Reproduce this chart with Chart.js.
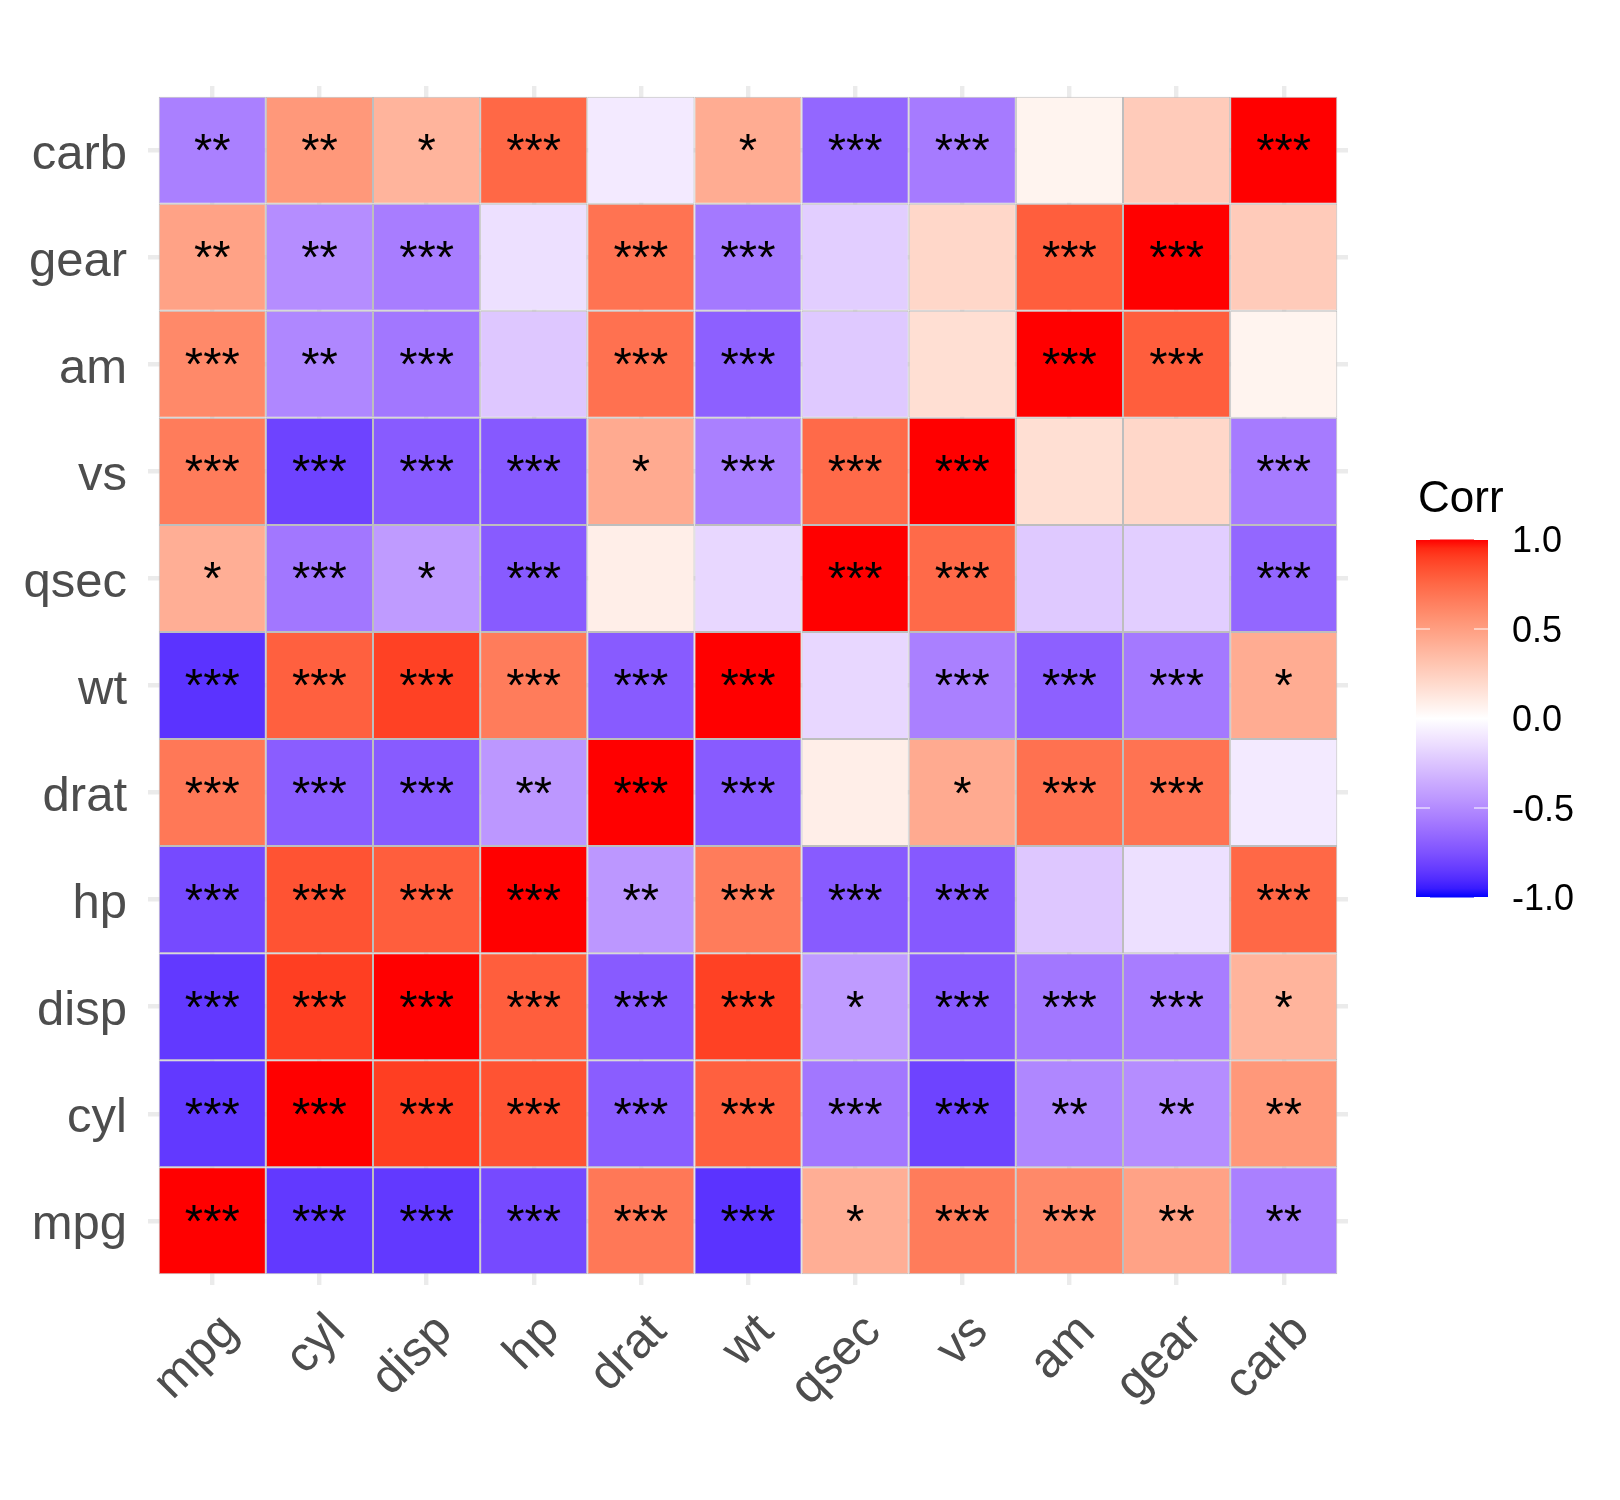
<!DOCTYPE html>
<html lang="en">
<head>
<meta charset="UTF-8">
<title>Corr heatmap</title>
<script src="https://cdn.jsdelivr.net/npm/chart.js@4.4.1/dist/chart.umd.min.js"></script>
<style>
  html, body { margin: 0; padding: 0; background: #ffffff; }
  #wrap { width: 1620px; height: 1500px; position: relative; }
</style>
</head>
<body>
<div id="wrap"><canvas id="heat"></canvas></div>
<script>
// variable names, bottom row / left column first
var vars = ['mpg', 'cyl', 'disp', 'hp', 'drat', 'wt', 'qsec', 'vs', 'am', 'gear', 'carb'];

// correlation values, row = y variable, column = x variable
var corr = [
  [ 1.00, -0.85, -0.85, -0.78,  0.68, -0.87,  0.42,  0.66,  0.60,  0.48, -0.55],
  [-0.85,  1.00,  0.90,  0.83, -0.70,  0.78, -0.59, -0.81, -0.52, -0.49,  0.53],
  [-0.85,  0.90,  1.00,  0.79, -0.71,  0.89, -0.43, -0.71, -0.59, -0.56,  0.39],
  [-0.78,  0.83,  0.79,  1.00, -0.45,  0.66, -0.71, -0.72, -0.24, -0.13,  0.75],
  [ 0.68, -0.70, -0.71, -0.45,  1.00, -0.71,  0.09,  0.44,  0.71,  0.70, -0.09],
  [-0.87,  0.78,  0.89,  0.66, -0.71,  1.00, -0.17, -0.55, -0.69, -0.58,  0.43],
  [ 0.42, -0.59, -0.43, -0.71,  0.09, -0.17,  1.00,  0.74, -0.23, -0.21, -0.66],
  [ 0.66, -0.81, -0.71, -0.72,  0.44, -0.55,  0.74,  1.00,  0.17,  0.21, -0.57],
  [ 0.60, -0.52, -0.59, -0.24,  0.71, -0.69, -0.23,  0.17,  1.00,  0.79,  0.06],
  [ 0.48, -0.49, -0.56, -0.13,  0.70, -0.58, -0.21,  0.21,  0.79,  1.00,  0.27],
  [-0.55,  0.53,  0.39,  0.75, -0.09,  0.43, -0.66, -0.57,  0.06,  0.27,  1.00]
];

// significance marks, same layout as corr
var stars = [
  ['***', '***', '***', '***', '***', '***', '*',   '***', '***', '**',  '**' ],
  ['***', '***', '***', '***', '***', '***', '***', '***', '**',  '**',  '**' ],
  ['***', '***', '***', '***', '***', '***', '*',   '***', '***', '***', '*'  ],
  ['***', '***', '***', '***', '**',  '***', '***', '***', '',    '',    '***'],
  ['***', '***', '***', '**',  '***', '***', '',    '*',   '***', '***', ''   ],
  ['***', '***', '***', '***', '***', '***', '',    '***', '***', '***', '*'  ],
  ['*',   '***', '*',   '***', '',    '',    '***', '***', '',    '',    '***'],
  ['***', '***', '***', '***', '*',   '***', '***', '***', '',    '',    '***'],
  ['***', '**',  '***', '',    '***', '***', '',    '',    '***', '***', ''   ],
  ['**',  '**',  '***', '',    '***', '***', '',    '',    '***', '***', ''   ],
  ['**',  '**',  '*',   '***', '',    '*',   '***', '***', '',    '',    '***']
];

var legendTicks = [1, 0.5, 0, -0.5, -1];
var legendLabels = ['1.0', '0.5', '0.0', '-0.5', '-1.0'];

// blue - white - red, interpolated in CIELAB like scale_fill_gradient2
var labLow = [32.30, 79.19, -107.86];
var labMid = [100, 0.005, -0.01];
var labHigh = [53.24, 80.09, 67.20];

function labToHex(L, a, b) {
  var fy = (L + 16) / 116, fx = fy + a / 500, fz = fy - b / 200;
  function finv(t) { var t3 = t * t * t; return t3 > 0.008856 ? t3 : (116 * t - 16) / 903.3; }
  var X = 0.95047 * finv(fx);
  var Y = L > 8 ? fy * fy * fy : L / 903.3;
  var Z = 1.08883 * finv(fz);
  var r = 3.2404542 * X - 1.5371385 * Y - 0.4985314 * Z;
  var g = -0.9692660 * X + 1.8760108 * Y + 0.0415560 * Z;
  var bl = 0.0556434 * X - 0.2040259 * Y + 1.0572252 * Z;
  function gam(c) {
    c = c <= 0.0031308 ? 12.92 * c : 1.055 * Math.pow(c, 1 / 2.4) - 0.055;
    var v = Math.round(Math.max(0, Math.min(1, c)) * 255);
    return (v < 16 ? '0' : '') + v.toString(16);
  }
  return '#' + gam(r) + gam(g) + gam(bl);
}

function corrColor(v) {
  var t = Math.min(1, Math.abs(v));
  var end = v < 0 ? labLow : labHigh;
  return labToHex(
    labMid[0] + (end[0] - labMid[0]) * t,
    labMid[1] + (end[1] - labMid[1]) * t,
    labMid[2] + (end[2] - labMid[2]) * t
  );
}

Chart.defaults.font.family = '"Liberation Sans", Arial, Helvetica, sans-serif';

// one dataset per row, floating bars of height 1
var datasets = vars.map(function (rowName, i) {
  return {
    label: rowName,
    data: vars.map(function (colName, j) { return { x: j, y: [i - 0.5, i + 0.5] }; }),
    backgroundColor: corr[i].map(corrColor),
    borderColor: '#bebebe',
    borderWidth: 1,
    borderSkipped: false,
    inflateAmount: 0,
    grouped: false,
    barPercentage: 1,
    categoryPercentage: 1
  };
});

var starLabels = {
  id: 'starLabels',
  afterDatasetsDraw: function (chart) {
    var ctx = chart.ctx, xs = chart.scales.x, ys = chart.scales.y;
    ctx.save();
    ctx.font = '47px "Liberation Sans", Arial, sans-serif';
    ctx.fillStyle = '#000000';
    ctx.textAlign = 'center';
    ctx.textBaseline = 'middle';
    for (var i = 0; i < vars.length; i++) {
      for (var j = 0; j < vars.length; j++) {
        if (stars[i][j]) ctx.fillText(stars[i][j], xs.getPixelForValue(j), ys.getPixelForValue(i) + 3);
      }
    }
    ctx.restore();
  }
};

var colorBar = {
  id: 'colorBar',
  afterDraw: function (chart) {
    var ctx = chart.ctx;
    var left = 1416, right = 1488, top = 539.5, bottom = 897.5;
    ctx.save();
    var grad = ctx.createLinearGradient(0, bottom, 0, top);
    for (var k = 0; k <= 40; k++) {
      grad.addColorStop(k / 40, corrColor(-1 + k / 20));
    }
    ctx.fillStyle = grad;
    ctx.fillRect(left, top, right - left, bottom - top);

    ctx.strokeStyle = '#ffffff';
    ctx.lineWidth = 1.2;
    ctx.fillStyle = '#000000';
    ctx.font = '36px "Liberation Sans", Arial, sans-serif';
    ctx.textAlign = 'left';
    ctx.textBaseline = 'middle';
    legendTicks.forEach(function (v, n) {
      var y = bottom - (v + 1) / 2 * (bottom - top);
      ctx.beginPath();
      ctx.moveTo(left, y); ctx.lineTo(left + 14, y);
      ctx.moveTo(right - 14, y); ctx.lineTo(right, y);
      ctx.stroke();
      ctx.fillText(legendLabels[n], 1512, y + 3);
    });

    ctx.font = '44px "Liberation Sans", Arial, sans-serif';
    ctx.textBaseline = 'alphabetic';
    ctx.fillText('Corr', 1418, 512);
    ctx.restore();
  }
};

function wholeTicks(scale) {
  scale.ticks = vars.map(function (v, i) { return { value: i }; });
}

new Chart(document.getElementById('heat'), {
  type: 'bar',
  data: { datasets: datasets },
  options: {
    responsive: true,
    maintainAspectRatio: false,
    animation: false,
    layout: { padding: { left: 0, top: 86, right: 272, bottom: 0 } },
    plugins: {
      legend: { display: false },
      tooltip: { enabled: false }
    },
    scales: {
      x: {
        type: 'linear',
        min: -0.6,
        max: 10.6,
        offset: false,
        afterBuildTicks: wholeTicks,
        afterFit: function (s) { s.height = 215; },
        grid: { offset: false, color: '#ebebeb', lineWidth: 4.4, drawTicks: false },
        border: { display: false },
        ticks: {
          autoSkip: false,
          minRotation: 45,
          maxRotation: 45,
          padding: 18,
          labelOffset: 18,
          color: '#4d4d4d',
          font: { size: 49 },
          callback: function (value) { return vars[value]; }
        }
      },
      y: {
        type: 'linear',
        min: -0.6,
        max: 10.6,
        afterBuildTicks: wholeTicks,
        afterFit: function (s) { s.width = 148; },
        grid: { color: '#ebebeb', lineWidth: 4.4, drawTicks: false },
        border: { display: false },
        ticks: {
          padding: 21,
          labelOffset: 5,
          color: '#4d4d4d',
          font: { size: 49 },
          callback: function (value) { return vars[value]; }
        }
      }
    }
  },
  plugins: [starLabels, colorBar]
});
</script>
</body>
</html>
